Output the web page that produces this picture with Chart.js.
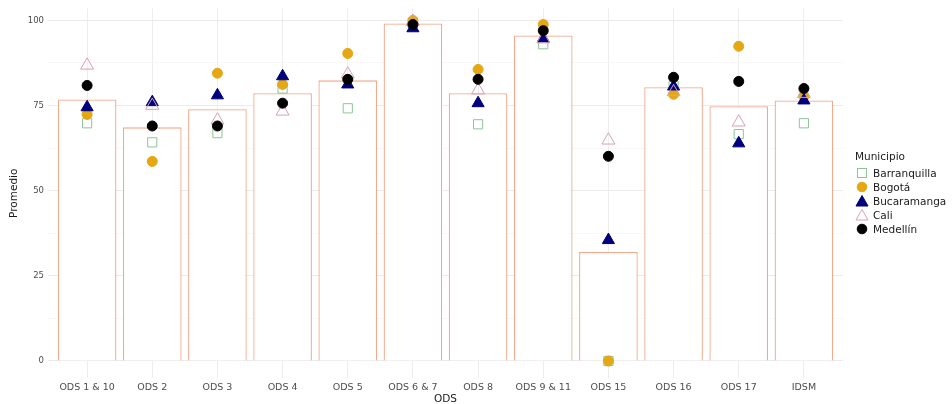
<!DOCTYPE html>
<html>
<head>
<meta charset="utf-8">
<script src="https://cdn.jsdelivr.net/npm/chart.js@4"></script>
<style>
  html, body { margin: 0; padding: 0; background: #fff; }
  #wrap { position: relative; width: 952px; height: 404px; }
  #legend { position: absolute; left: 855px; top: 150px; font-family: "DejaVu Sans", sans-serif; color: #1a1a1a; }
  #legend .title { font-size: 10.5px; margin-bottom: 3px; height: 13px; line-height: 13px; }
  #legend .item { display: flex; align-items: center; height: 14px; font-size: 10.5px; }
  #legend svg { width: 14px; height: 14px; margin-right: 4px; }
</style>
</head>
<body>
<div id="wrap">
  <canvas id="c" width="952" height="404"></canvas>
  <div id="legend"></div>
</div>
<script>
const categories = ['ODS 1 & 10','ODS 2','ODS 3','ODS 4','ODS 5','ODS 6 & 7','ODS 8','ODS 9 & 11','ODS 15','ODS 16','ODS 17','IDSM'];
const promedio     = [76.8, 68.6, 73.9, 78.6, 82.4, 99.1, 78.6, 95.6, 32.0, 80.4, 74.8, 76.5];
const barranquilla = [69.8, 64.2, 66.9, 80.0, 74.2, 99.3, 69.5, 93.0,  0.0, 80.8, 66.6, 69.8];
const bogota       = [72.4, 58.6, 84.5, 81.2, 90.3, 100.0, 85.6, 98.8, 0.0, 78.3, 92.4, 77.7];
const bucaramanga  = [74.5, 76.0, 78.0, 83.6, 81.2, 97.7, 75.7, 94.7, 35.5, 80.6, 63.9, 76.5];
const cali         = [86.8, 75.0, 70.7, 73.3, 84.2, 99.7, 79.5, 94.5, 64.8, 79.0, 70.1, 78.5];
const medellin     = [80.9, 69.0, 69.0, 75.7, 82.7, 98.8, 82.7, 97.0, 60.1, 83.3, 82.1, 80.0];
const municipios   = ['Barranquilla','Bogotá','Bucaramanga','Cali','Medellín'];
const yTicks       = [0, 25, 50, 75, 100];
const yMinorTicks  = [12.5, 37.5, 62.5, 87.5];

const styles = [
  { style: 'rect',     radius: 6.5, fill: 'rgba(255,255,255,0)', border: '#8DC49A', bw: 1 },
  { style: 'circle',   radius: 5,   fill: '#E5A712', border: '#E5A712', bw: 1 },
  { style: 'triangle', radius: 7,   fill: '#00007F', border: '#00007F', bw: 1 },
  { style: 'triangle', radius: 7.5, fill: 'rgba(255,255,255,0)', border: '#D9A1B0', bw: 1 },
  { style: 'circle',   radius: 5,   fill: '#000000', border: '#000000', bw: 1 }
];
const seriesData = [barranquilla, bogota, bucaramanga, cali, medellin];

const datasets = [{
  type: 'bar',
  label: 'Promedio',
  data: promedio,
  backgroundColor: '#ffffff',
  borderColor: '#F2A98C',
  borderWidth: 1.3,
  barPercentage: 0.9,
  categoryPercentage: 1,
  order: 10
}];
municipios.forEach((m, i) => {
  const s = styles[i];
  datasets.push({
    type: 'line',
    label: m,
    data: seriesData[i],
    showLine: false,
    pointStyle: s.style,
    pointRadius: s.radius,
    pointHoverRadius: s.radius,
    pointBackgroundColor: s.fill,
    pointBorderColor: s.border,
    pointBorderWidth: s.bw,
    order: 5 - i
  });
});

// ggplot-style discrete expansion (0.6 of a category on each side)
const expandPlugin = {
  id: 'expandX',
  afterLayout(chart) {
    const s = chart.scales.x;
    const n = categories.length;
    s._startValue = -0.6;
    s._valueRange = (n - 1) + 1.2;
  }
};

const ff = '"DejaVu Sans", sans-serif';
new Chart(document.getElementById('c'), {
  data: { labels: categories, datasets },
  plugins: [expandPlugin],
  options: {
    responsive: false,
    animation: false,
    devicePixelRatio: 1,
    layout: { padding: { left: 0, right: 109, top: 3, bottom: 0 } },
    plugins: { legend: { display: false }, tooltip: { enabled: false } },
    scales: {
      x: {
        offset: false,
        border: { display: false },
        grid: { offset: false, color: '#EDEDED', lineWidth: 1, drawTicks: false },
        ticks: { color: '#4D4D4D', font: { family: ff, size: 9.5 }, padding: 4, maxRotation: 0, autoSkip: false },
        title: { display: true, text: 'ODS', color: '#1a1a1a', font: { family: ff, size: 10.5 }, padding: { top: 0, bottom: -2 } },
        afterFit: s => { s.height = 26; s.paddingLeft = 0; s.paddingRight = 0; }
      },
      y: {
        min: -5, max: 103.5,
        border: { display: false },
        afterBuildTicks: s => { s.ticks = yTicks.concat(yMinorTicks).sort((a,b)=>a-b).map(v => ({ value: v })); },
        grid: {
          drawTicks: false,
          color: c => yTicks.includes(c.tick.value) ? '#EBEBEB' : '#F5F5F5',
          lineWidth: c => yTicks.includes(c.tick.value) ? 1 : 0.7
        },
        ticks: {
          color: '#4D4D4D', font: { family: ff, size: 8.5 }, padding: 4,
          callback: v => yTicks.includes(v) ? String(v) : ''
        },
        title: { display: true, text: 'Promedio', color: '#1a1a1a', font: { family: ff, size: 10.5 }, padding: { top: 8, bottom: 0 } },
        afterFit: s => { s.width = 48; s.paddingTop = 0; s.paddingBottom = 0; }
      }
    }
  }
});

// Legend
const lg = document.getElementById('legend');
const t = document.createElement('div');
t.className = 'title'; t.textContent = 'Municipio';
lg.appendChild(t);
municipios.forEach((m, i) => {
  const s = styles[i];
  const row = document.createElement('div');
  row.className = 'item';
  let shape = '';
  if (s.style === 'rect') shape = `<rect x="2.5" y="2.5" width="9" height="9" fill="none" stroke="${s.border}" stroke-width="1"/>`;
  else if (s.style === 'circle') shape = `<circle cx="7" cy="7" r="4.8" fill="${s.fill}" stroke="${s.border}"/>`;
  else shape = `<polygon points="7,1.5 13,12 1,12" fill="${s.fill.startsWith('rgba') ? 'none' : s.fill}" stroke="${s.border}" stroke-width="1"/>`;
  row.innerHTML = `<svg viewBox="0 0 14 14">${shape}</svg><span>${m}</span>`;
  lg.appendChild(row);
});
</script>
</body>
</html>
